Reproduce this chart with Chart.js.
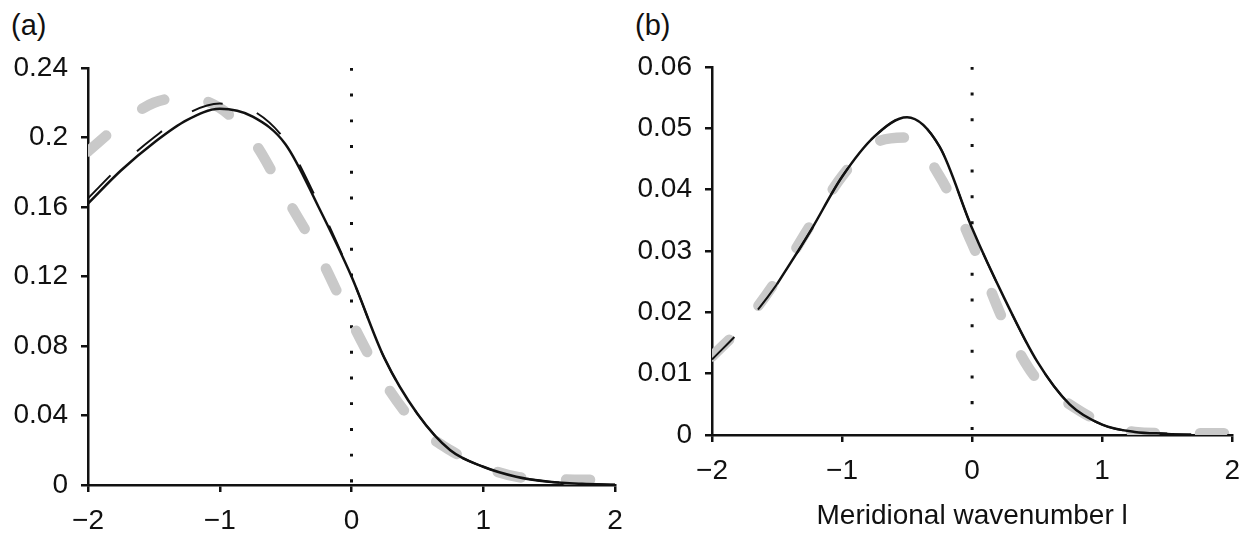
<!DOCTYPE html>
<html>
<head>
<meta charset="utf-8">
<script src="https://cdn.jsdelivr.net/npm/chart.js@4.4.1/dist/chart.umd.min.js"></script>
<style>
  html, body { margin: 0; padding: 0; background: #fff; }
  body { width: 1252px; height: 533px; position: relative; overflow: hidden; font-family: "Liberation Sans", Arial, sans-serif; }
  .panel { position: absolute; top: 0; height: 533px; }
  .tag { position: absolute; top: 9px; font-size: 29px; color: #111; }
</style>
</head>
<body>
<div class="tag" style="left:11px;">(a)</div>
<div class="tag" style="left:635px;">(b)</div>
<div class="panel" style="left:0; width:640px;"><canvas id="chartA"></canvas></div>
<div class="panel" style="left:624px; width:628px;"><canvas id="chartB"></canvas></div>
<script>
// --- data ---
const wavenumbers = [-2, -1.75, -1.5, -1.25, -1, -0.75, -0.5, -0.25, 0, 0.25, 0.5, 0.75, 1, 1.25, 1.5, 1.75, 2];

// panel (a)
const solidA  = [0.162, 0.181, 0.197, 0.210, 0.2165, 0.212, 0.196, 0.160, 0.120, 0.073, 0.041, 0.020, 0.0105, 0.0048, 0.0019, 0.0007, 0.0002];
const dashedA = [0.165, 0.184, 0.200, 0.2135, 0.2195, 0.2155, 0.198, 0.162, 0.120, 0.073, 0.041, 0.020, 0.0105, 0.0048, 0.0019, 0.0007, 0.0002];
const grayA   = [0.192, 0.208, 0.220, 0.223, 0.217, 0.1985, 0.166, 0.133, 0.094, 0.059, 0.034, 0.020, 0.0105, 0.0048, 0.0035, 0.003, 0.003];

// panel (b)
const solidB  = [null, null, 0.0246, 0.0330, 0.0421, 0.0487, 0.0518, 0.0470, 0.0337, 0.0222, 0.0120, 0.0050, 0.0017, 0.0005, 0.0002, null, null];
const dashedB = [0.0123, 0.0178, 0.0246, 0.0330, 0.0421, 0.0487, 0.0518, 0.0470, 0.0337, 0.0222, 0.0120, 0.0050, 0.0017, 0.0005, 0.0002, 0.0001, 0];
const grayB   = [0.0128, 0.0182, 0.0254, 0.0340, 0.0422, 0.0476, 0.0485, 0.0422, 0.0312, 0.0182, 0.0090, 0.0050, 0.0020, 0.0005, 0.0003, 0.0003, 0.0003];

// dotted line at l = 0
const vlineX = [0, 0];
const vlineYA = [0.24, 0];
const vlineYB = [0.06, 0];

// axis ticks
const xTicks = [-2, -1, 0, 1, 2];
const xTickLabels = ['\u22122', '\u22121', '0', '1', '2'];
const yTicksA = [0, 0.04, 0.08, 0.12, 0.16, 0.2, 0.24];
const yTickLabelsA = ['0', '0.04', '0.08', '0.12', '0.16', '0.2', '0.24'];
const yTicksB = [0, 0.01, 0.02, 0.03, 0.04, 0.05, 0.06];
const yTickLabelsB = ['0', '0.01', '0.02', '0.03', '0.04', '0.05', '0.06'];

const FONT = { family: '"Liberation Sans", Arial, sans-serif', size: 28 };
const INK = '#111';

function pts(xs, ys) {
    return xs.map((x, i) => ({ x: x, y: ys[i] }));
}

function makeDatasets(solid, dashed, gray, vlineY) {
    return [
        { label: 'solid', data: pts(wavenumbers, solid), borderColor: INK, borderWidth: 2.5, order: 1 },
        { label: 'dashed', data: pts(wavenumbers, dashed), borderColor: INK, borderWidth: 2, borderDash: [32, 36], order: 2 },
        { label: 'gray', data: pts(wavenumbers, gray), borderColor: '#c9c9c9', borderWidth: 10.5, borderDash: [24, 45], borderCapStyle: 'round', order: 3 },
        { label: 'l=0', data: pts(vlineX, vlineY), borderColor: INK, borderWidth: 3, borderDash: [3, 22.7], tension: 0, order: 4 }
    ];
}

function axisGrid() {
    return { display: true, drawOnChartArea: false, drawTicks: true, tickLength: 7, color: INK, lineWidth: 2.5 };
}

function makeChart(id, datasets, yMax, yTicks, yLabels, xHeight, padding, xTitle) {
    return new Chart(document.getElementById(id), {
        type: 'line',
        data: { datasets: datasets },
        options: {
            responsive: true,
            maintainAspectRatio: false,
            animation: false,
            layout: { padding: padding },
            elements: {
                point: { radius: 0 },
                line: { cubicInterpolationMode: 'monotone', fill: false, borderCapStyle: 'butt' }
            },
            spanGaps: false,
            plugins: { legend: { display: false }, tooltip: { enabled: false } },
            scales: {
                x: {
                    type: 'linear', min: -2, max: 2,
                    grid: axisGrid(),
                    border: { display: true, color: INK, width: 2.5 },
                    afterBuildTicks: s => { s.ticks = xTicks.map(v => ({ value: v })); },
                    afterFit: s => { s.height = xHeight; },
                    ticks: { font: FONT, color: INK, padding: 12, maxRotation: 0, callback: (v, i) => xTickLabels[i] },
                    title: xTitle ? { display: true, text: xTitle, font: FONT, color: INK, padding: { top: 0, bottom: 0 } } : { display: false }
                },
                y: {
                    type: 'linear', min: 0, max: yMax,
                    grid: axisGrid(),
                    border: { display: true, color: INK, width: 2.5 },
                    afterBuildTicks: s => { s.ticks = yTicks.map(v => ({ value: v })); },
                    afterFit: s => { s.width = 88; },
                    ticks: { font: FONT, color: INK, padding: 13, callback: (v, i) => yLabels[i] }
                }
            }
        }
    });
}

makeChart('chartA', makeDatasets(solidA, dashedA, grayA, vlineYA), 0.24, yTicksA, yTickLabelsA, 48,
    { top: 68, right: 25, bottom: 0, left: 0 }, null);
makeChart('chartB', makeDatasets(solidB, dashedB, grayB, vlineYB), 0.06, yTicksB, yTickLabelsB, 98,
    { top: 67, right: 14, bottom: 0, left: 0 }, 'Meridional wavenumber l');
</script>
</body>
</html>
